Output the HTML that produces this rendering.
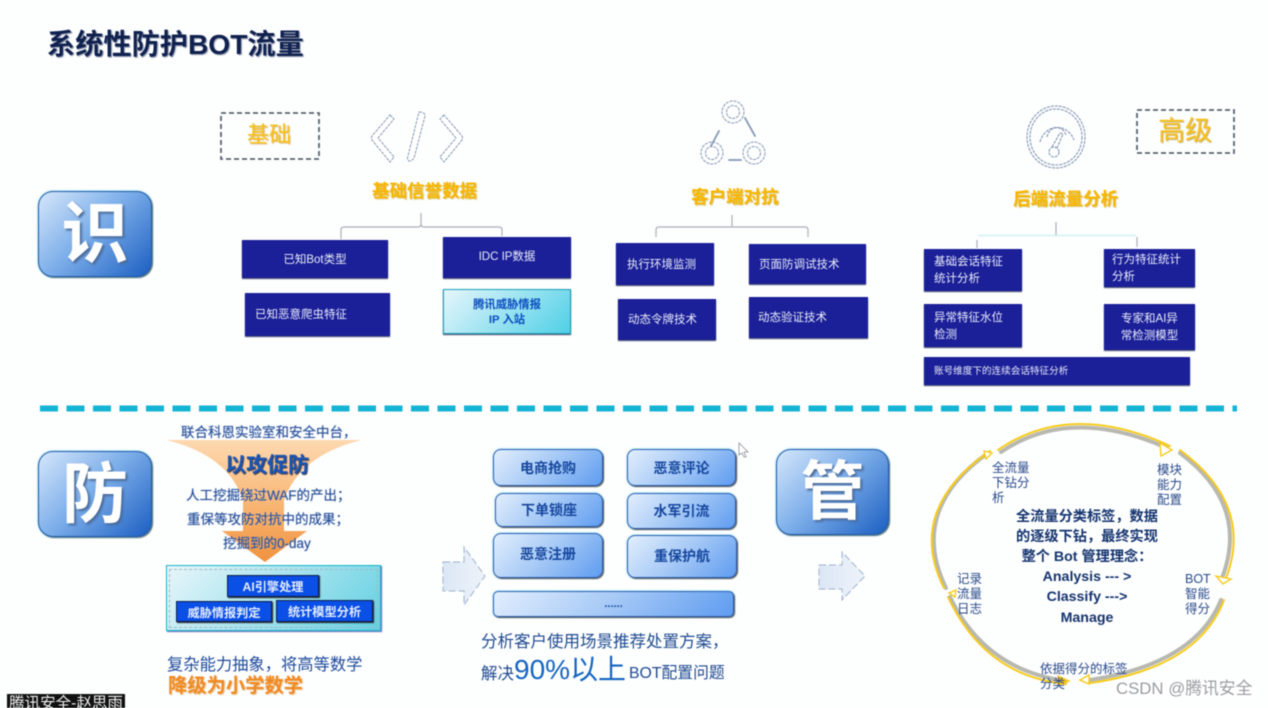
<!DOCTYPE html>
<html lang="zh"><head><meta charset="utf-8"><title>系统性防护BOT流量</title>
<style>
html,body{margin:0;padding:0;background:#fdfefe}
#p{position:relative;width:1268px;height:708px;overflow:hidden;background:#fdfefe;filter:blur(.55px);font-family:"Liberation Sans","Noto Sans CJK SC",sans-serif}
#p>div,#p>svg{position:absolute}
.t{white-space:nowrap;line-height:1}
.n{background:#1b1f98;box-shadow:0 1px 1px #3c4468;color:#e8ecfa;font-size:11.500px;padding-top:2px;display:flex;align-items:center;line-height:1.45;box-sizing:border-box}
.c{justify-content:center;text-align:center}
.h{color:#f7b600;font-weight:700;font-size:17.500px;white-space:nowrap;line-height:1;text-shadow:1px 1px 1px #d8c070}
.big{border:1.500px solid #1f5aa8;border-radius:15px;background:linear-gradient(135deg,#d6e7fb 0%,#7fb0ea 45%,#1c5fc2 100%);box-shadow:0 0 2px #5bc8e8,1px 1px 1px #555;box-sizing:border-box;color:#fff;font-weight:700;display:flex;align-items:center;justify-content:center;text-shadow:2px 2px 2px #4a6a98;line-height:1}
.s{border:1.500px solid #2a5fb0;border-radius:8px;background:linear-gradient(135deg,#e2eefd 0%,#a4c8f6 50%,#5f9cf0 100%);box-shadow:1px 1px 1px #555,0 0 2px #63d0ee;box-sizing:border-box;color:#16479e;font-weight:700;font-size:14px;display:flex;align-items:center;justify-content:center}
.i{background:#0a4fe6;border:1px solid #10204a;box-shadow:1px 1px 1px #222;box-sizing:border-box;color:#e4ecff;font-weight:700;font-size:12.200px;display:flex;align-items:center;justify-content:center}
.b{color:#2a4f96;font-size:13.500px;text-shadow:0 0 1px #7ea0d8}
.l{color:#2a4a8c;font-size:12.500px;line-height:15.200px;white-space:nowrap}
.m{color:#15346f;font-weight:700;font-size:14.200px;line-height:1;white-space:nowrap;text-align:center;left:987px;width:200px}
</style></head><body><div id="p">

<div class="t" style="left:47px;top:30px;font-size:28.200px;font-weight:700;color:#10214f;text-shadow:1px 1px 1px #8a93a8">系统性防护BOT流量</div>

<svg style="left:0;top:0" width="1268" height="708" viewBox="0 0 1268 708">
<g fill="none" stroke="#5b6472" stroke-width="1.800" stroke-dasharray="5 3">
<rect x="221" y="113" width="98" height="46"/>
<rect x="1137" y="110" width="97" height="43"/>
</g>
<!-- code icon -->
<g fill="#fff" stroke="#8496b4" stroke-width="1" stroke-dasharray="3 1">
<path d="M390 115 L394 119 L378 138 L394 157 L390 162 L372 140 Q371 138 372 136Z"/>
<path d="M419 112 Q425 112 425 116 L414 158 Q410 163 408 160 Q407 159 408 156Z"/>
<path d="M444 115 L440 119 L456 138 L440 157 L444 162 L462 140 Q463 138 462 136Z"/>
</g>
<!-- triangle icon -->
<g fill="none" stroke="#8496b4" stroke-width="1" stroke-dasharray="3 1">
<circle cx="733" cy="112" r="11"/><circle cx="733" cy="112" r="6.500"/>
<circle cx="712" cy="153" r="11"/><circle cx="712" cy="153" r="6.500"/>
<circle cx="754" cy="153" r="11"/><circle cx="754" cy="153" r="6.500"/>
</g>
<g fill="none" stroke="#8496b4" stroke-width="1.800" stroke-linecap="round">
<path d="M719 131 L711 146"/><path d="M745 118 L755 136"/><path d="M729 160 L741 160"/>
</g>
<!-- gauge icon -->
<g fill="none" stroke="#8496b4" stroke-width="1.100" stroke-dasharray="3 1">
<ellipse cx="1056" cy="137" rx="29" ry="31"/><ellipse cx="1056" cy="137" rx="26" ry="28"/>
<path d="M1040 142 A18 20 0 0 1 1074 140"/><path d="M1047 137 A10 12 0 0 1 1066 135"/>
<circle cx="1054" cy="152" r="5"/><path d="M1052 147 L1060 133 L1063 134 L1057 148"/>
</g>
<!-- connectors -->
<g fill="none" stroke="#aab0b8" stroke-width="1.200">
<path d="M421 213 V224 Q421 227 418 227 H344 Q341 227 341 230 V239"/>
<path d="M421 224 Q421 227 424 227 H499 Q502 227 502 230 V236"/>
<path d="M732 215 V227 M732 227 H659 Q656 227 656 230 V237 M732 227 H805 Q808 227 808 230 V237"/>
<path d="M1056 222 V236 M977 240 V248 M1137 237 V247"/>
</g>
<path d="M978 235.500 H1136" stroke="#c9f0f4" stroke-width="1.200" fill="none"/>
<!-- divider -->
<path d="M40 408.500 H1237" stroke="#14b4d4" stroke-width="6" stroke-dasharray="18 8.500"/>
<!-- funnel -->
<defs>
<linearGradient id="f" x1="0" y1="0" x2="0" y2="1"><stop offset="0" stop-color="#fdd9b0"/><stop offset=".5" stop-color="#f9b877"/><stop offset="1" stop-color="#f0923f"/></linearGradient>
<linearGradient id="a" x1="0" y1="0" x2="1" y2="0"><stop offset="0" stop-color="#dbe7f5"/><stop offset="1" stop-color="#eef3fa"/></linearGradient>
</defs>
<path d="M166 440 H362 Q300 455 284 500 V531 H307 L265 562 L222 531 H243 V500 Q228 455 166 440Z" fill="url(#f)"/>
<!-- hollow arrows -->
<g fill="url(#a)" stroke="#9fb2cc" stroke-width="1" stroke-dasharray="7 3">
<path d="M443 562 H464 V547 L485 576 L464 605 V591 H443Z"/>
<path d="M819 565 H842 V552 L865 576 L842 600 V589 H819Z"/>
</g>
<!-- cursor -->
<path d="M739 443 L748 452 L744 452 L746 457 L744 457 L742 453 L739 455Z" fill="#fff" stroke="#8a8f98" stroke-width=".8"/>
<!-- ring -->
<g fill="none" stroke-linecap="round">
<g stroke="#b8b8b0" stroke-width="4">
<path d="M1001 452 Q1070 405 1167 448"/>
<path d="M1180 453 Q1250 505 1222 578"/>
<path d="M1221 600 Q1195 664 1090 680"/>
<path d="M1066 681 Q985 670 950 597"/>
<path d="M946 588 Q908 510 988 453"/>
</g>
<g stroke="#f6cb1c" stroke-width="2">
<path d="M998 450 Q1070 400 1170 446"/>
<path d="M1180 450 Q1254 505 1226 578"/>
<path d="M1224 600 Q1198 668 1090 683"/>
<path d="M1066 684 Q985 676 948 597"/>
<path d="M944 588 Q905 510 990 451"/>
</g>
</g>
<g fill="#fff" stroke="#f6cb1c" stroke-width="1.400">
<path d="M1160 443 L1172 450 L1161 456Z"/>
<path d="M1216 576 L1231 579 L1223 584Z"/>
<path d="M1089 675 L1089 684 L1080 680Z"/>
<path d="M1058 676 L1069 681 L1058 685Z" fill="#e8b820"/>
<path d="M984 451 L992 453 L986 459Z"/>
<path d="M949 593 L956 590 L955 597Z"/>
</g>
</svg>

<div class="t" style="left:247px;top:124px;font-size:22px;color:#f8c21c;text-shadow:1px 1px 1px #d8b878">基础</div>
<div class="t" style="left:1158px;top:118px;font-size:27px;color:#f8c21c;text-shadow:1px 1px 1px #c8b070">高级</div>

<div class="big" style="left:38px;top:191px;width:114px;height:86px;font-size:67px">识</div>
<div class="big" style="left:38px;top:451px;width:114px;height:86px;font-size:66px">防</div>
<div class="big" style="left:776px;top:449px;width:113px;height:86px;font-size:64px">管</div>

<div class="h" style="left:372px;top:183px">基础信誉数据</div>
<div class="h" style="left:691px;top:189px">客户端对抗</div>
<div class="h" style="left:1013px;top:191px">后端流量分析</div>

<div class="n c" style="left:242px;top:240px;width:146px;height:38px;">已知Bot类型</div>
<div class="n" style="left:245px;top:293px;width:145px;height:43px;padding-left:10px">已知恶意爬虫特征</div>
<div class="n c" style="left:443px;top:237px;width:128px;height:41px;padding-bottom:3px">IDC IP数据</div>
<div class="n c" style="left:443px;top:289px;width:128px;height:45px;background:linear-gradient(135deg,#e6f6fb,#4fd0e6);border:1.500px solid #18a0b8;color:#0a4cc0;font-weight:700;font-size:11.300px;line-height:1.25">腾讯威胁情报<br>IP 入站</div>

<div class="n" style="left:616px;top:243px;width:98px;height:42px;padding-left:11px">执行环境监测</div>
<div class="n" style="left:749px;top:244px;width:117px;height:40px;padding-left:10px">页面防调试技术</div>
<div class="n" style="left:618px;top:299px;width:98px;height:41px;padding-left:10px">动态令牌技术</div>
<div class="n" style="left:749px;top:297px;width:119px;height:41px;padding-left:9px">动态验证技术</div>
<div class="n" style="left:924px;top:249px;width:98px;height:42px;padding-left:10px">基础会话特征<br>统计分析</div>
<div class="n" style="left:1104px;top:249px;width:91px;height:38px;padding-left:8px">行为特征统计<br>分析</div>
<div class="n" style="left:924px;top:304px;width:98px;height:43px;padding-left:10px">异常特征水位<br>检测</div>
<div class="n c" style="left:1104px;top:304px;width:91px;height:46px;">专家和AI异<br>常检测模型</div>
<div class="n" style="left:924px;top:357px;width:266px;height:28px;padding-left:10px;font-size:9.600px">账号维度下的连续会话特征分析</div>

<div class="t b" style="left:181px;top:426px">联合科恩实验室和安全中台，</div>
<div class="t" style="left:225px;top:455px;font-size:21px;font-weight:700;color:#1a55b8;text-shadow:1px 1px 1px #334">以攻促防</div>
<div class="t b" style="left:186px;top:489px">人工挖掘绕过WAF的产出；</div>
<div class="t b" style="left:187px;top:513px">重保等攻防对抗中的成果；</div>
<div class="t b" style="left:223px;top:537px">挖掘到的0-day</div>

<div style="left:166px;top:565px;width:215px;height:66px;box-sizing:border-box;border:1.500px solid #18b4c8;background:linear-gradient(135deg,#e8f6fa,#62d0e2);box-shadow:1px 1px 1px #6468b8"></div>
<div style="left:169px;top:569px;width:209px;height:59px;box-sizing:border-box;border:1px dashed #9fb8c4"></div>
<div class="i" style="left:227px;top:575px;width:92px;height:22px">AI引擎处理</div>
<div class="i" style="left:176px;top:601px;width:96px;height:21px">威胁情报判定</div>
<div class="i" style="left:276px;top:600px;width:97px;height:22px">统计模型分析</div>

<div class="t" style="left:167px;top:657px;font-size:16.300px;color:#1f4a9c">复杂能力抽象，将高等数学</div>
<div class="t" style="left:168px;top:677px;font-size:19.300px;font-weight:700;color:#f08a24;text-shadow:1px 1px 1px #e8c088">降级为小学数学</div>
<div class="t" style="left:7px;top:694px;width:118px;height:14px;background:#111;color:#eee;font-size:15.500px;line-height:19px;overflow:hidden;text-align:center">腾讯安全-赵思雨</div>

<div class="s" style="left:493px;top:449px;width:110px;height:37px">电商抢购</div>
<div class="s" style="left:627px;top:449px;width:109px;height:37px">恶意评论</div>
<div class="s" style="left:495px;top:493px;width:108px;height:34px">下单锁座</div>
<div class="s" style="left:627px;top:493px;width:109px;height:36px">水军引流</div>
<div class="s" style="left:493px;top:533px;width:110px;height:45px;padding-bottom:4px">恶意注册</div>
<div class="s" style="left:627px;top:535px;width:110px;height:43px;padding-bottom:2px">重保护航</div>
<div class="s" style="left:493px;top:591px;width:241px;height:26px;font-size:11px;border-radius:5px">......</div>

<div class="t" style="left:481px;top:634px;font-size:16.500px;color:#1f4a90">分析客户使用场景推荐处置方案，</div>
<div class="t" style="left:481px;top:666px;font-size:16.500px;color:#1f4a90">解决</div>
<div class="t" style="left:514px;top:656px;font-size:28px;color:#1565c0">90%以上</div>
<div class="t" style="left:629px;top:666px;font-size:15.800px;color:#1f4a90">BOT配置问题</div>

<div class="l" style="left:992px;top:461px">全流量<br>下钻分<br>析</div>
<div class="l" style="left:1157px;top:463px">模块<br>能力<br>配置</div>
<div class="l" style="left:1185px;top:572px">BOT<br>智能<br>得分</div>
<div class="l" style="left:957px;top:572px">记录<br>流量<br>日志</div>
<div class="l" style="left:1040px;top:662px">依据得分的标签<br>分类</div>

<div class="m" style="top:510px">全流量分类标签，数据</div>
<div class="m" style="top:530px">的逐级下钻，最终实现</div>
<div class="m" style="top:550px">整个 Bot 管理理念：</div>
<div class="m" style="top:570px">Analysis --- &gt;</div>
<div class="m" style="top:590px">Classify ---&gt;</div>
<div class="m" style="top:611px">Manage</div>

<div class="t" style="left:1112px;top:681px;padding:0 4px;background:rgba(255,255,255,.7);font-size:16.800px;color:#9a9ca0">CSDN @腾讯安全</div>
</div></body></html>
